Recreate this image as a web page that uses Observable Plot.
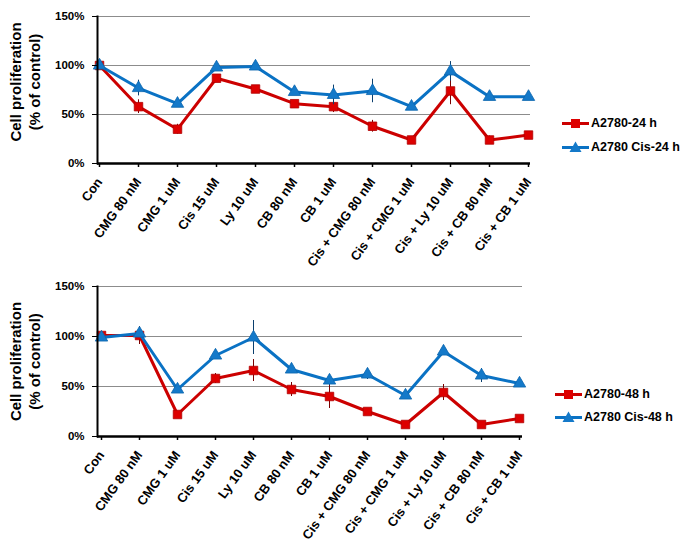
<!DOCTYPE html>
<html><head><meta charset="utf-8">
<script src="https://cdn.jsdelivr.net/npm/d3@7"></script>
<script src="https://cdn.jsdelivr.net/npm/@observablehq/plot@0.6"></script>
<style>
body{margin:0;background:#fff;font-family:"Liberation Sans",Arial,sans-serif;}
#wrap{position:relative;width:686px;height:542px;}
#wrap svg.chart{display:block;}
.legend{position:absolute;font-weight:bold;font-size:12.5px;color:#000;}
.legend .row{display:flex;align-items:center;height:12px;position:absolute;white-space:nowrap;}
.legend .row svg{margin-right:2px;}
</style></head><body><div id="wrap"></div><script>
const categories = ["Con","CMG 80 nM","CMG 1 uM","Cis 15 uM","Ly 10 uM","CB 80 nM","CB 1 uM","Cis + CMG 80 nM","Cis + CMG 1 uM","Cis + Ly 10 uM","Cis + CB 80 nM","Cis + CB 1 uM"];
const yTicks = [0, 50, 100, 150];

const a24 = [100, 58, 35, 87, 76, 61, 58, 38, 24, 74, 24, 29];
const a24Err = [2, 7, 5, 2, 2, 2, 6, 6, 2, 14, 4, 2];
const cis24 = [100, 77, 61, 98, 99, 73, 70, 74, 58, 94, 68, 68];
const cis24Err = [2, 8, 2, 2, 2, 2, 10, 12, 3, 10, 2, 2];

const a48 = [101, 101, 22, 58, 66, 47, 40, 25, 12, 44, 12, 18];
const a48Err = [2, 9, 3, 5, 11, 7, 12, 3, 2, 8, 2, 2];
const cis48 = [99, 103, 47, 81, 99, 67, 56, 62, 41, 85, 61, 53];
const cis48Err = [2, 4, 3, 3, 17, 4, 5, 5, 3, 3, 7, 2];

const seriesNames24 = ["A2780-24 h", "A2780 Cis-24 h"];
const seriesNames48 = ["A2780-48 h", "A2780 Cis-48 h"];

const RED = "#cc0000", RED_DARK = "#7a0000";
const BLUE = "#0a72c4", BLUE_DARK = "#0b3f6e";
const FONT = "Liberation Sans, Arial, sans-serif";

function rows(vals, errs, name) {
  return categories.map((c, i) => ({cat: c, v: vals[i], e: errs[i], s: name}));
}

function chart(redVals, redErr, blueVals, blueErr, names, o) {
  const red = rows(redVals, redErr, names[0]);
  const blue = rows(blueVals, blueErr, names[1]);
  return Plot.plot({
    width: 686, height: o.height,
    marginLeft: 97, marginRight: o.marginRight, marginTop: 16, marginBottom: o.marginBottom,
    style: {fontFamily: FONT, background: "white", overflow: "visible"},
    x: {type: "point", domain: categories, padding: 0, label: null},
    y: {domain: [0, 150], label: null},
    marks: [
      Plot.gridY([50, 100, 150], {stroke: "#8c8c8c", strokeOpacity: 1, strokeWidth: 1.2}),
      Plot.line(red, {x: "cat", y: "v", stroke: RED, strokeWidth: 3}),
      Plot.ruleX(red, {x: "cat", y1: d => d.v - d.e, y2: d => d.v + d.e, stroke: RED_DARK, strokeWidth: 1}),
      Plot.dot(red, {x: "cat", y: "v", symbol: "square", r: 4.8, fill: "#dd0000", stroke: "#b00000", strokeWidth: 0.8}),
      Plot.line(blue, {x: "cat", y: "v", stroke: BLUE, strokeWidth: 3}),
      Plot.ruleX(blue, {x: "cat", y1: d => d.v - d.e, y2: d => d.v + d.e, stroke: BLUE_DARK, strokeWidth: 1}),
      Plot.dot(blue, {x: "cat", y: "v", symbol: "triangle", r: 4.6, fill: "#1479c9", stroke: "#0a64ad", strokeWidth: 0.8}),
      Plot.frame({anchor: "left", stroke: "black", strokeWidth: 2}),
      Plot.ruleY([0], {stroke: "black", strokeWidth: 2.5}),
      Plot.axisY({ticks: yTicks, tickFormat: d => d + "%", tickSize: 5, tickPadding: 8, stroke: "black",
        fontSize: 11.5, fontWeight: "bold", label: null}),
      Plot.axisX({tickSize: 4, tickPadding: 12, tickRotate: -54, stroke: "black", strokeWidth: 1.5,
        fontSize: 13, fontWeight: "bold", label: null}),
      Plot.text(["Cell proliferation\n(% of control)"], {frameAnchor: "left", rotate: -90, textAnchor: "middle",
        dx: -73, dy: o.titleDy, fontSize: 15, fontWeight: "bold", lineHeight: 1.25, fill: "black"})
    ]
  });
}

function legendRow(kind, color, fill, text, left, topPx) {
  const row = document.createElement("div");
  row.className = "row";
  row.style.left = left + "px";
  row.style.top = (topPx - 6) + "px";
  const marker = kind === "square"
    ? `<rect x="9" y="2" width="9" height="9" fill="${fill}"/>`
    : `<path d="M13.5,0.5 L19.5,11 L7.5,11 Z" fill="${fill}"/>`;
  row.innerHTML = `<svg width="27" height="12"><line x1="0" x2="27" y1="6.5" y2="6.5" stroke="${color}" stroke-width="3"/>${marker}</svg><span>${text}</span>`;
  return row;
}

const wrap = document.getElementById("wrap");
const chartTop = chart(a24, a24Err, cis24, cis24Err, seriesNames24, {height: 270, marginRight: 156, marginBottom: 107, titleDy: -8});
chartTop.classList.add("chart");
wrap.appendChild(chartTop);
const chartBottom = chart(a48, a48Err, cis48, cis48Err, seriesNames48, {height: 272, marginRight: 164, marginBottom: 106, titleDy: 0});
chartBottom.classList.add("chart");
wrap.appendChild(chartBottom);

const lg = document.createElement("div");
lg.className = "legend";
lg.style.left = "0px"; lg.style.top = "0px";
lg.appendChild(legendRow("square", RED, "#dd0000", seriesNames24[0], 562, 123));
lg.appendChild(legendRow("triangle", BLUE, "#1479c9", seriesNames24[1], 562, 147));
lg.appendChild(legendRow("square", RED, "#dd0000", seriesNames48[0], 555, 394));
lg.appendChild(legendRow("triangle", BLUE, "#1479c9", seriesNames48[1], 555, 417));
wrap.appendChild(lg);
</script></body></html>
